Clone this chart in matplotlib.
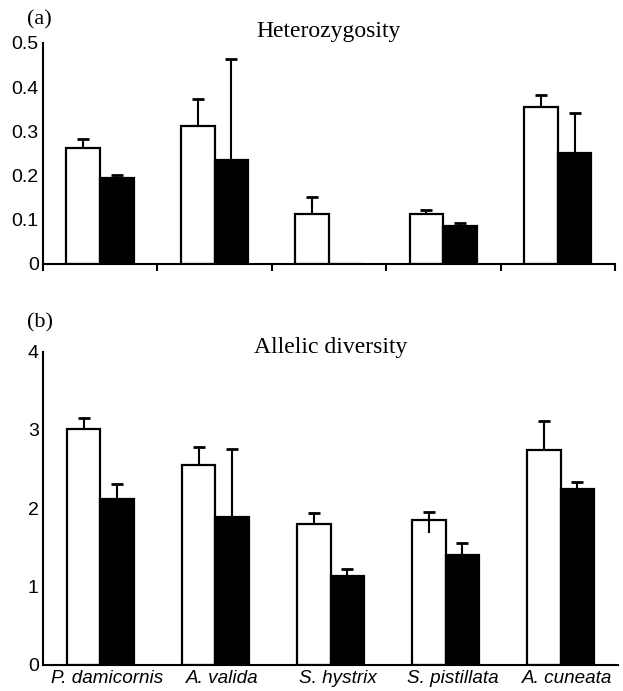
import numpy as np
import matplotlib.pyplot as plt
from matplotlib.transforms import ScaledTranslation

species = ['P. damicornis', 'A. valida', 'S. hystrix', 'S. pistillata', 'A. cuneata']

# (a) heterozygosity
het_white = [0.262, 0.312, 0.113, 0.113, 0.354]
het_white_err = [0.021, 0.060, 0.038, 0.010, 0.028]
het_black = [0.195, 0.235, 0.0, 0.086, 0.252]
het_black_err = [0.006, 0.228, 0.0, 0.006, 0.090]

# (b) allelic diversity
all_white = [3.01, 2.55, 1.80, 1.85, 2.75]
all_white_err = [0.14, 0.23, 0.14, 0.10, 0.36]
all_white_low = [0.0, 0.0, 0.0, 0.17, 0.0]
all_black = [2.12, 1.89, 1.13, 1.40, 2.24]
all_black_err = [0.19, 0.87, 0.09, 0.15, 0.09]

serif = 'Liberation Serif'
sans = 'Liberation Sans'
plt.rcParams['font.family'] = sans

fig = plt.figure(figsize=(6.23, 6.91), dpi=100)
ax1 = fig.add_axes([0.069, 0.618, 0.918, 0.320])
ax2 = fig.add_axes([0.069, 0.038, 0.923, 0.453])

x = np.arange(len(species))
w = 0.295


def draw(ax, white, werr, black, berr):
    ax.bar(x - w / 2, white, w, color='white', edgecolor='black', linewidth=1.6, zorder=2)
    ax.bar(x + w / 2, black, w, color='black', edgecolor='black', linewidth=1.6, zorder=2)
    werr = np.array(werr)
    berr = np.array(berr)
    ax.errorbar(x - w / 2, white, yerr=[np.zeros(len(x)), werr], fmt='none',
                ecolor='black', elinewidth=1.5, capsize=4, capthick=2, zorder=1)
    m = berr > 0
    ax.errorbar((x + w / 2)[m], np.array(black)[m], yerr=[np.zeros(m.sum()), berr[m]],
                fmt='none', ecolor='black', elinewidth=1.5, capsize=4, capthick=2, zorder=1)
    for s in ['top', 'right']:
        ax.spines[s].set_visible(False)
    for s in ['left', 'bottom']:
        ax.spines[s].set_linewidth(1.5)
    ax.set_xlim(-0.5, 4.5)
    ax.tick_params(axis='y', length=0, labelsize=14, pad=3)


draw(ax1, het_white, het_white_err, het_black, het_black_err)
ax1.set_ylim(0, 0.5)
ax1.set_yticks([0, 0.1, 0.2, 0.3, 0.4, 0.5])
ax1.set_yticklabels(['0', '0.1', '0.2', '0.3', '0.4', '0.5'])
ax1.set_xticks(np.arange(-0.5, 5.0, 1.0))
ax1.set_xticklabels([])
ax1.tick_params(axis='x', direction='out', length=5, width=1.5)
ax1.text(0.5, 1.027, 'Heterozygosity', transform=ax1.transAxes, ha='center',
         va='baseline', family=serif, fontsize=17)
fig.text(0.043, 0.971, '(a)', family=serif, fontsize=16, va='center')

draw(ax2, all_white, all_white_err, all_black, all_black_err)
# lower error for the odd one
low = np.array(all_white_low)
m = low > 0
ax2.vlines((x - w / 2)[m], np.array(all_white)[m] - low[m], np.array(all_white)[m],
           color='black', linewidth=1.5, zorder=3)
ax2.set_ylim(0, 4)
ax2.set_yticks([0, 1, 2, 3, 4])
ax2.set_xticks(x)
ax2.set_xticklabels(species, style='italic', fontsize=13.6)
ax2.tick_params(axis='x', length=0, pad=4)
shift = ScaledTranslation(7 / 100, 0, fig.dpi_scale_trans)
for lab in ax2.get_xticklabels():
    lab.set_transform(lab.get_transform() + shift)
ax2.text(0.5, 0.995, 'Allelic diversity', transform=ax2.transAxes, ha='center',
         va='baseline', family=serif, fontsize=17)
fig.text(0.043, 0.533, '(b)', family=serif, fontsize=16, va='center')

fig.savefig('out.png', dpi=100)
